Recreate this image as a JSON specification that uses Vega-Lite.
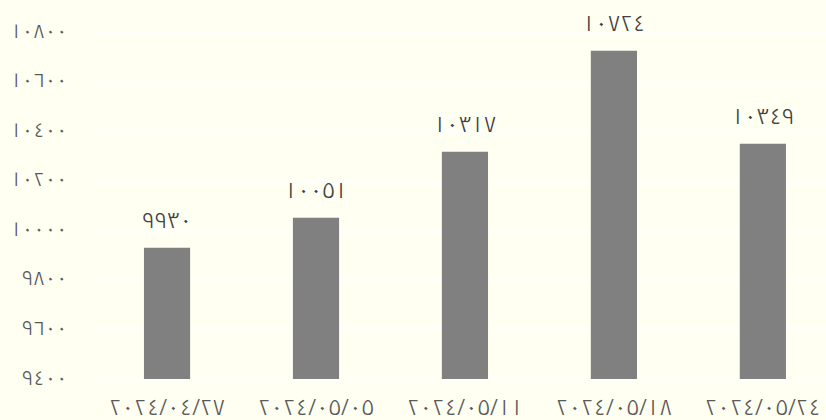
{
  "$schema": "https://vega.github.io/schema/vega-lite/v6.json",
  "width": 731,
  "height": 347,
  "padding": {"left": 95, "top": 32, "right": 0, "bottom": 41},
  "autosize": {"type": "none"},
  "background": "#fffff2",
  "config": {
    "view": {"stroke": null, "fill": "#fffff2"},
    "font": "Noto Kufi Arabic",
    "locale": {
      "number": {
        "decimal": ".",
        "thousands": ",",
        "grouping": [3],
        "currency": ["", ""],
        "numerals": ["٠", "١", "٢", "٣", "٤", "٥", "٦", "٧", "٨", "٩"]
      }
    }
  },
  "data": {
    "values": [
      {"date": "٢٠٢٤/٠٤/٢٧", "value": 9930},
      {"date": "٢٠٢٤/٠٥/٠٥", "value": 10051},
      {"date": "٢٠٢٤/٠٥/١١", "value": 10317},
      {"date": "٢٠٢٤/٠٥/١٨", "value": 10724},
      {"date": "٢٠٢٤/٠٥/٢٤", "value": 10349}
    ]
  },
  "encoding": {
    "x": {
      "field": "date",
      "type": "nominal",
      "sort": null,
      "scale": {"paddingInner": 0.69, "paddingOuter": 0.2987, "align": 0.55},
      "axis": {
        "title": null,
        "labelAngle": 0,
        "ticks": false,
        "domain": false,
        "labelFont": "Noto Kufi Arabic",
        "labelFontSize": 22,
        "labelFontWeight": 300,
        "labelColor": "#595959",
        "labelBaseline": "middle",
        "labelPadding": 28
      }
    },
    "y": {
      "field": "value",
      "type": "quantitative",
      "scale": {"domain": [9400, 10800], "nice": false, "zero": false},
      "axis": {
        "title": null,
        "values": [9400, 9600, 9800, 10000, 10200, 10400, 10600, 10800],
        "format": "d",
        "ticks": false,
        "domain": false,
        "grid": true,
        "gridColor": "#ffffff",
        "gridWidth": 2,
        "labelFont": "Noto Kufi Arabic",
        "labelFontSize": 20,
        "labelFontWeight": 300,
        "labelColor": "#595959",
        "labelBaseline": "middle",
        "labelPadding": 28,
        "labelOffset": -1
      }
    }
  },
  "layer": [
    {
      "mark": {"type": "bar", "color": "#808080"},
      "encoding": {"y2": {"datum": 9400}}
    },
    {
      "mark": {"type": "text", "baseline": "middle", "dy": -27, "fontSize": 22, "fontWeight": 300, "font": "Noto Kufi Arabic", "color": "#404040"},
      "encoding": {
        "text": {"field": "value", "type": "quantitative", "format": "d"},
        "y": {
          "field": "value",
          "type": "quantitative",
          "scale": {"domain": [9400, 10800], "nice": false, "zero": false},
          "axis": {
            "title": null,
            "labels": false,
            "ticks": false,
            "grid": false,
            "domain": true,
            "domainColor": "#9aaad0",
            "domainWidth": 3,
            "offset": 90
          }
        }
      }
    }
  ],
  "resolve": {"axis": {"y": "independent"}}
}
